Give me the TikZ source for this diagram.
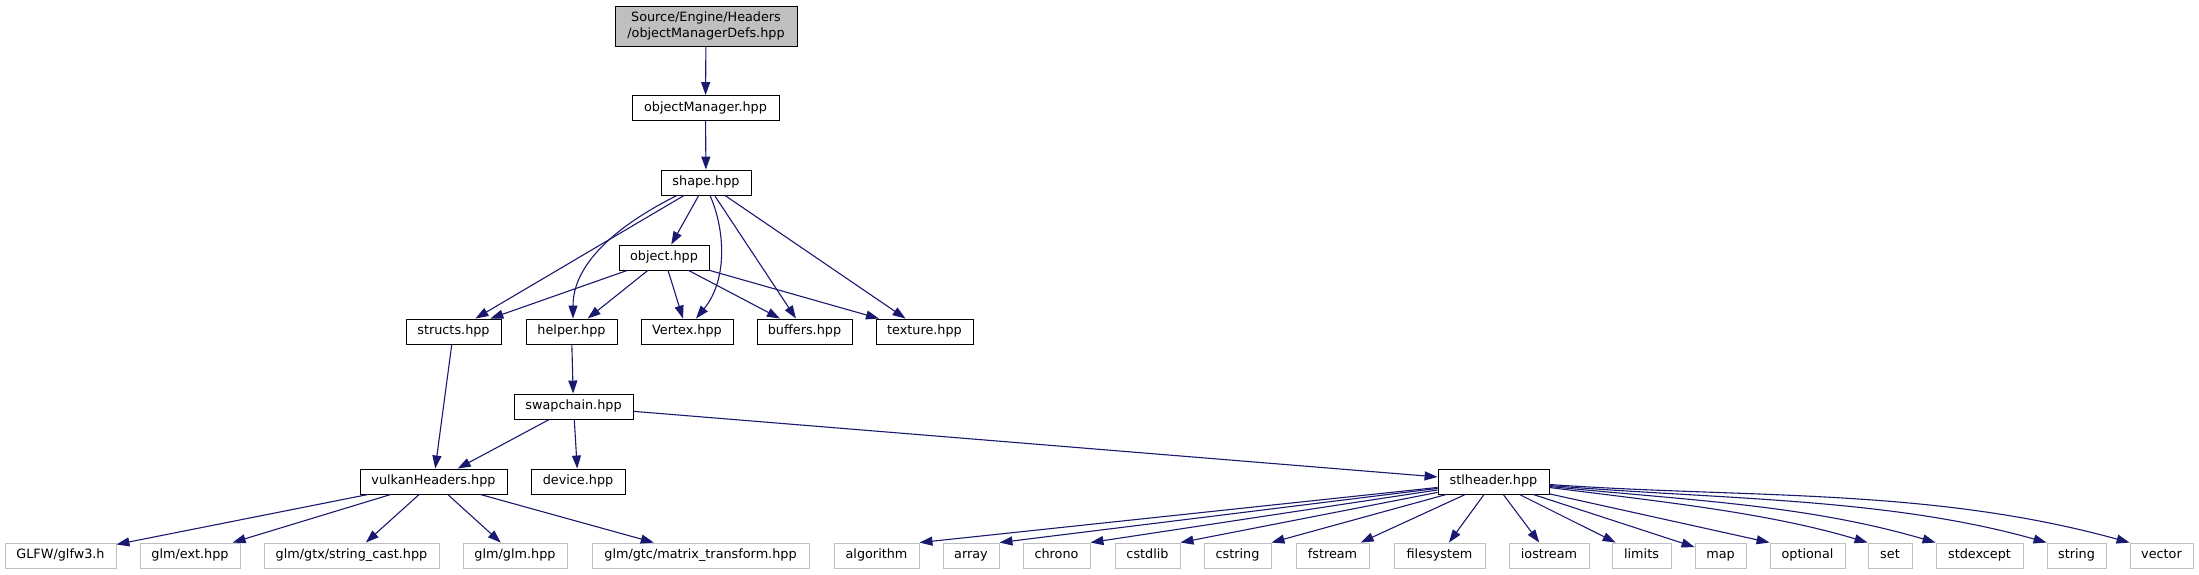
\documentclass[tikz,border=0pt]{standalone}
\usepackage{fontspec}
\setmainfont{DejaVu Sans}
\usetikzlibrary{arrows.meta}
\definecolor{edgecol}{RGB}{25,25,112}
\definecolor{leafcol}{RGB}{191,191,191}
\begin{document}
\begin{tikzpicture}[x=1pt,y=-1pt,
  box/.style={draw=black, line width=0.9pt, fill=white, inner sep=0pt, minimum height=25pt,
    text height=9.7pt, text depth=3pt, font=\fontsize{12.8}{16}\selectfont},
  leaf/.style={box, draw=leafcol},
  rootbox/.style={draw=black, line width=0.9pt, fill=leafcol, inner sep=0pt, minimum height=40pt,
    align=center, font=\fontsize{12.8}{16}\selectfont},
  edge/.style={draw=edgecol, line width=1.1pt, -{Triangle[length=13pt,width=9pt]}}
]
\useasboundingbox (0,0) rectangle (2199,575);
% main nodes
\node[rootbox, minimum width=182pt] (root) at (706,26) {Source/Engine/Headers\\/objectManagerDefs.hpp};
\node[box, minimum width=147pt] (om) at (705.5,108) {objectManager.hpp};
\node[box, minimum width=90pt] (shape) at (706,182.5) {shape.hpp};
\node[box, minimum width=90pt] (object) at (664,257.5) {object.hpp};
\node[box, minimum width=95pt] (structs) at (453.5,331.5) {structs.hpp};
\node[box, minimum width=91pt] (helper) at (571.5,331.5) {helper.hpp};
\node[box, minimum width=92pt] (Vertex) at (687,331.5) {Vertex.hpp};
\node[box, minimum width=95pt] (buffers) at (804.5,331.5) {buffers.hpp};
\node[box, minimum width=97pt] (texture) at (924.5,331.5) {texture.hpp};
\node[box, minimum width=119pt] (swapchain) at (573.5,406.5) {swapchain.hpp};
\node[box, minimum width=147pt] (vulkan) at (433.5,481.5) {vulkanHeaders.hpp};
\node[box, minimum width=94pt] (device) at (578,481.5) {device.hpp};
\node[box, minimum width=111pt] (stl) at (1493.5,481.5) {stlheader.hpp};
% leaves
\node[leaf, minimum width=111pt] (glfw) at (60.5,555.5) {GLFW/glfw3.h};
\node[leaf, minimum width=100pt] (ext) at (190,555.5) {glm/ext.hpp};
\node[leaf, minimum width=175pt] (strcast) at (351.5,555.5) {glm/gtx/string\_cast.hpp};
\node[leaf, minimum width=104pt] (glm) at (515,555.5) {glm/glm.hpp};
\node[leaf, minimum width=217pt] (matrix) at (700.5,555.5) {glm/gtc/matrix\_transform.hpp};
\node[leaf, minimum width=85pt] (algorithm) at (876.5,555.5) {algorithm};
\node[leaf, minimum width=56pt] (array) at (971,555.5) {array};
\node[leaf, minimum width=67pt] (chrono) at (1056.5,555.5) {chrono};
\node[leaf, minimum width=65pt] (cstdlib) at (1147.5,555.5) {cstdlib};
\node[leaf, minimum width=67pt] (cstring) at (1237.5,555.5) {cstring};
\node[leaf, minimum width=73pt] (fstream) at (1332.5,555.5) {fstream};
\node[leaf, minimum width=91pt] (filesystem) at (1439.5,555.5) {filesystem};
\node[leaf, minimum width=80pt] (iostream) at (1549,555.5) {iostream};
\node[leaf, minimum width=59pt] (limits) at (1641.5,555.5) {limits};
\node[leaf, minimum width=51pt] (map) at (1720.5,555.5) {map};
\node[leaf, minimum width=75pt] (optional) at (1807.5,555.5) {optional};
\node[leaf, minimum width=44pt] (set) at (1890,555.5) {set};
\node[leaf, minimum width=87pt] (stdexcept) at (1979.5,555.5) {stdexcept};
\node[leaf, minimum width=59pt] (string) at (2076.5,555.5) {string};
\node[leaf, minimum width=63pt] (vector) at (2161.5,555.5) {vector};
% edges
\draw[edge] (root) -- (om);
\draw[edge] (om) -- (shape);
\draw[edge] (shape) -- (object);
\draw[edge] (shape) -- (structs);
\draw[edge] ([xshift=-29pt]shape.south) .. controls +(-60,30) and +(0,-55) .. ([xshift=1.5pt]helper.north);
\draw[edge] ([xshift=4pt]shape.south) .. controls +(15,34) and +(32,-39) .. ([xshift=9pt]Vertex.north);
\draw[edge] (shape) -- (buffers);
\draw[edge] (shape) -- (texture);
\draw[edge] (object) -- (structs);
\draw[edge] (object) -- (helper);
\draw[edge] (object) -- (Vertex);
\draw[edge] (object) -- (buffers);
\draw[edge] (object) -- (texture);
\draw[edge] (structs) -- (vulkan);
\draw[edge] (helper) -- (swapchain);
\draw[edge] (swapchain) -- (vulkan);
\draw[edge] (swapchain) -- (device);
\draw[edge] (swapchain) -- (stl);
\draw[edge] (vulkan) -- (glfw);
\draw[edge] (vulkan) -- (ext);
\draw[edge] (vulkan) -- (strcast);
\draw[edge] (vulkan) -- (glm);
\draw[edge] (vulkan) -- (matrix);
\draw[edge] (stl) -- (algorithm.north east);
\draw[edge] (stl) -- (array.north east);
\draw[edge] (stl) -- (chrono.north east);
\draw[edge] (stl) -- (cstdlib.north east);
\draw[edge] (stl) -- (cstring.north east);
\draw[edge] (stl) -- (fstream);
\draw[edge] (stl) -- (filesystem);
\draw[edge] (stl) -- (iostream);
\draw[edge] (stl) -- (limits);
\draw[edge] (stl) -- (map);
\draw[edge] (stl) -- (optional.north west);
\draw[edge] ([yshift=-6pt]stl.east) .. controls +(110,14) and +(-100,-30) .. (set.north west);
\draw[edge] ([yshift=-5pt]stl.east) .. controls +(140,14) and +(-130,-38) .. (stdexcept.north west);
\draw[edge] ([yshift=-4pt]stl.east) .. controls +(170,14) and +(-160,-45) .. (string.north west);
\draw[edge] ([yshift=-3pt]stl.east) .. controls +(200,14) and +(-200,-55) .. (vector.north west);
\end{tikzpicture}
\end{document}
